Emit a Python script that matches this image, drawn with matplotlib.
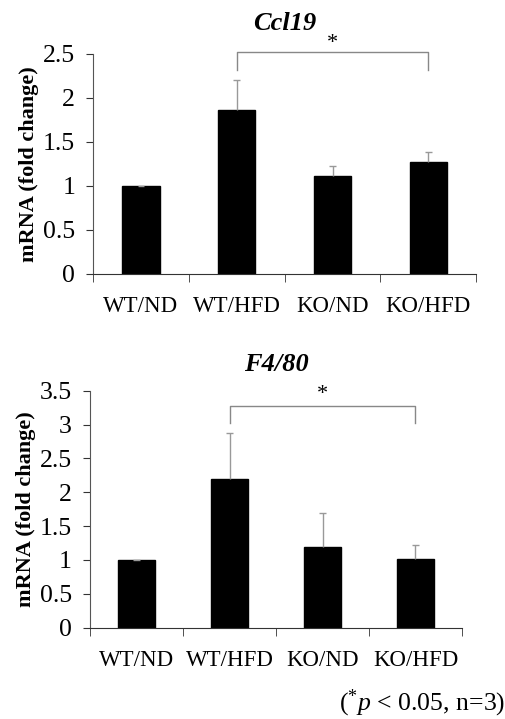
import matplotlib
matplotlib.use('Agg')
import matplotlib.pyplot as plt
import numpy as np

plt.rcParams['font.family'] = ['Liberation Serif', 'DejaVu Serif']
plt.rcParams['mathtext.fontset'] = 'custom'
plt.rcParams['mathtext.it'] = 'Liberation Serif:italic'
plt.rcParams['mathtext.rm'] = 'Liberation Serif'

# data
groups = ['WT/ND', 'WT/HFD', 'KO/ND', 'KO/HFD']
ccl19_mean = [1.0, 1.86, 1.11, 1.27]
ccl19_err = [0.0, 0.34, 0.12, 0.12]
f480_mean = [1.0, 2.19, 1.19, 1.01]
f480_err = [0.0, 0.69, 0.50, 0.21]


def panel(ax, title, means, errs, ymax, bracket, star_y, title_pad):
    x = np.arange(len(groups))
    means = np.array(means)
    errs = np.array(errs)
    ax.bar(x, means, width=0.39, color='black', edgecolor='black', zorder=2)
    # upper error bars only, thin gray
    ax.vlines(x, means, means + errs, color='#999999', lw=1, zorder=3)
    ax.hlines(means + errs, x - 0.035, x + 0.035, color='#999999', lw=1, zorder=3)
    ax.set_xlim(-0.5, len(groups) - 0.5)
    ax.set_ylim(0, ymax)
    yt = np.arange(0, ymax + 0.01, 0.5)
    ax.set_yticks(yt)
    ax.set_yticklabels([f'{v:g}' for v in yt])
    ax.set_xticks(x)
    ax.set_xticklabels(groups)
    ax.set_xticks(np.arange(-0.5, len(groups)), minor=True)
    ax.tick_params(axis='x', which='major', length=0, pad=16, labelsize=16.5)
    ax.tick_params(axis='x', which='minor', length=6, direction='out', color='#333333')
    ax.tick_params(axis='y', length=5, pad=8, labelsize=18.5, color='#333333')
    ax.spines['top'].set_visible(False)
    ax.spines['right'].set_visible(False)
    ax.spines['left'].set_color('#555555')
    ax.spines['bottom'].set_color('#333333')
    ax.set_ylabel('mRNA (fold change)', fontsize=16, fontweight='bold', labelpad=3)
    ax.set_title(title, fontsize=19, fontweight='bold', style='italic', pad=title_pad)
    # significance bracket between WT/HFD and KO/HFD
    lo, hi = bracket
    ax.plot([1, 1, 3, 3], [lo, hi, hi, lo], color='#888888', lw=1, clip_on=False)
    ax.text(2, star_y, '*', ha='center', va='center', fontsize=16, clip_on=False)


fig = plt.figure(figsize=(5.06, 7.19), dpi=100)
ax1 = fig.add_axes([0.184, 0.619, 0.757, 0.306])
ax2 = fig.add_axes([0.178, 0.127, 0.735, 0.3296])

panel(ax1, 'Ccl19', ccl19_mean, ccl19_err, 2.5, (2.32, 2.52), 2.62, 17)
panel(ax2, 'F4/80', f480_mean, f480_err, 3.5, (3.02, 3.27), 3.45, 14)

fig.text(0.998, 0.022, r'($^{*}$$\it{p}$ < 0.05, n=3)', ha='right', va='center', fontsize=18.5)

fig.savefig('out.png', dpi=100)
